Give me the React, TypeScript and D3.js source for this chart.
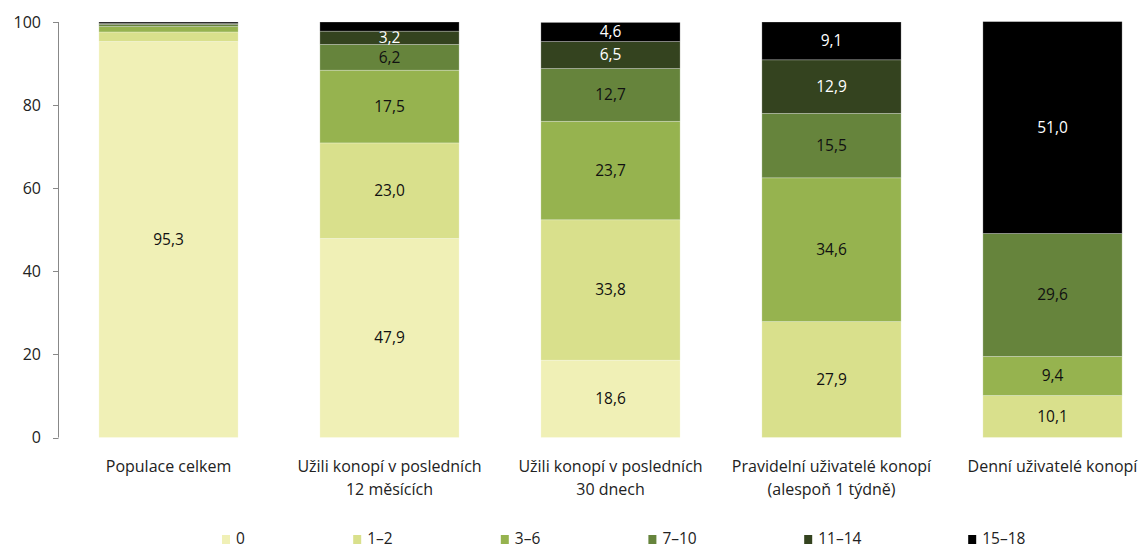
import React from "react";
import * as d3 from "d3";

const categories = [
  ["Populace celkem"],
  ["Užili konopí v posledních", "12 měsících"],
  ["Užili konopí v posledních", "30 dnech"],
  ["Pravidelní uživatelé konopí", "(alespoň 1 týdně)"],
  ["Denní uživatelé konopí"],
];
const seriesNames = ["0", "1–2", "3–6", "7–10", "11–14", "15–18"];
const s0 = [95.3, 47.9, 18.6, 0, 0];
const s12 = [2.3, 23.0, 33.8, 27.9, 10.1];
const s36 = [1.3, 17.5, 23.7, 34.6, 9.4];
const s710 = [0.5, 6.2, 12.7, 15.5, 29.6];
const s1114 = [0.3, 3.2, 6.5, 12.9, 0];
const s1518 = [0.3, 2.2, 4.6, 9.1, 51.0];
const yTicks = [0, 20, 40, 60, 80, 100];
const colors = ["#f0f0b6", "#d9e08c", "#96b34f", "#66843c", "#34431f", "#000000"];
const labelColors = ["#111", "#111", "#111", "#111", "#fff", "#fff"];

const seriesValues = [s0, s12, s36, s710, s1114, s1518];
const font = "'Open Sans', 'Noto Sans', sans-serif";

export default function App() {
  const W = 1144, H = 550;
  const x = d3.scaleBand<number>().domain(d3.range(categories.length)).range([58, 1163]).paddingInner(0.37).paddingOuter(0.185);
  const y = d3.scaleLinear().domain([0, 100]).range([437.5, 22]);

  const table = categories.map((_, i) => {
    const row: any = { i };
    seriesNames.forEach((n, k) => (row[n] = seriesValues[k][i]));
    return row;
  });
  const stacked = d3.stack<any>().keys(seriesNames)(table);

  const legendX: number[] = [];
  let cx = 222;
  seriesNames.forEach((n) => {
    legendX.push(cx);
    cx += 14 + n.length * 8.2 + 109;
  });

  return (
    <svg width={W} height={H} style={{ position: "absolute", left: 0, top: 0, background: "#fff" }} fontFamily={font}>
      <line x1={58.5} x2={58.5} y1={y(100)} y2={y(0)} stroke="#888" strokeWidth={1} />
      {yTicks.map((t) => (
        <g key={t}>
          <line x1={53} x2={58.5} y1={Math.round(y(t)) + 0.5} y2={Math.round(y(t)) + 0.5} stroke="#888" />
          <text x={41} y={y(t)} dy="0.35em" textAnchor="end" fontSize={16} fill="#222">
            {t}
          </text>
        </g>
      ))}
      {stacked.map((layer, k) => (
        <g key={layer.key}>
          {layer.map((d, i) => {
            const v = d[1] - d[0];
            if (v <= 0) return null;
            const bx = x(i)!;
            const bw = x.bandwidth();
            return (
              <g key={i}>
                <rect x={bx} y={y(d[1])} width={bw} height={y(d[0]) - y(d[1])} fill={colors[k]} stroke="rgba(255,255,255,0.35)" strokeWidth={0.75} />
                {v >= 3 && (
                  <text x={bx + bw / 2} y={(y(d[0]) + y(d[1])) / 2} dy="0.35em" textAnchor="middle" fontSize={15.5} fill={labelColors[k]}>
                    {v.toFixed(1).replace(".", ",")}
                  </text>
                )}
              </g>
            );
          })}
        </g>
      ))}
      {categories.map((lines, i) => (
        <text key={i} textAnchor="middle" fontSize={16} fill="#222">
          {lines.map((l, j) => (
            <tspan key={j} x={x(i)! + x.bandwidth() / 2} y={472 + j * 23}>
              {l}
            </tspan>
          ))}
        </text>
      ))}
      {seriesNames.map((n, k) => (
        <g key={n}>
          <rect x={legendX[k]} y={535} width={8} height={9} fill={colors[k]} />
          <text x={legendX[k] + 14} y={539} dy="0.35em" fontSize={15.5} fill="#222">
            {n}
          </text>
        </g>
      ))}
    </svg>
  );
}
